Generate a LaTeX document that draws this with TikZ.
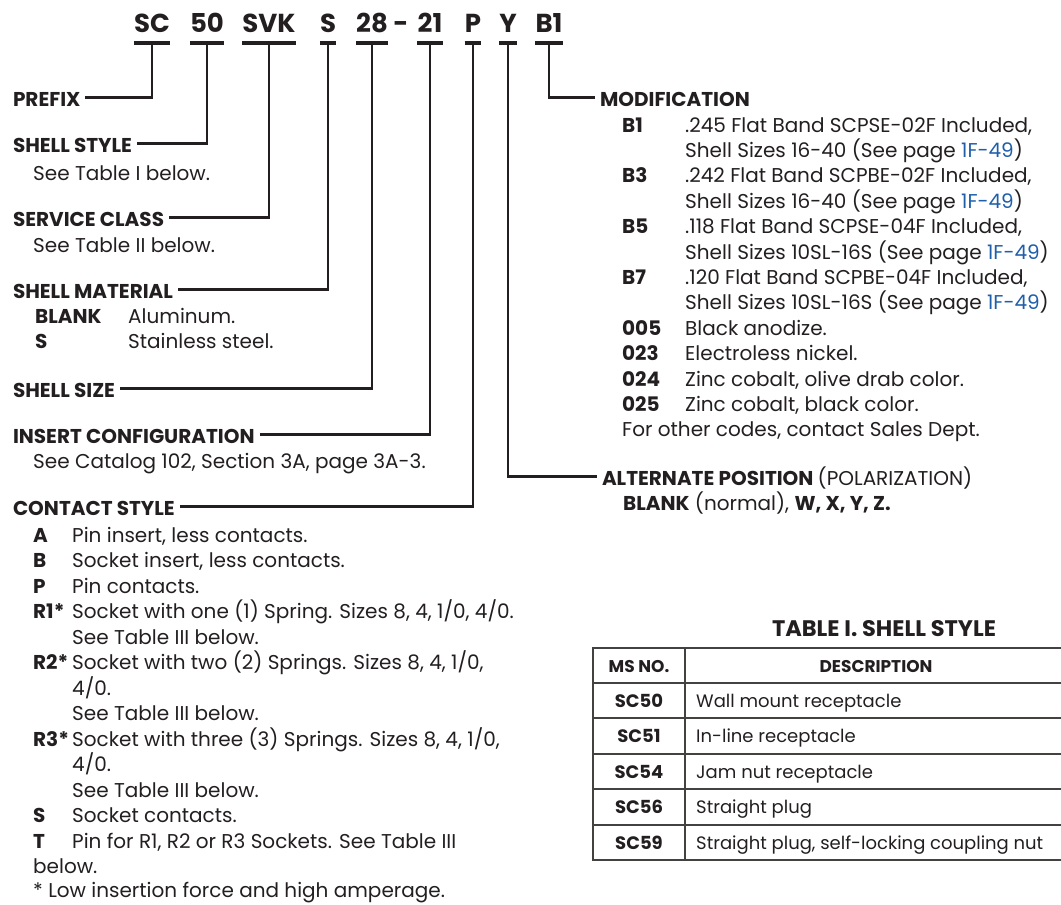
\documentclass[tikz,border=0pt]{standalone}
\usepackage{fontspec}
\setmainfont{Poppins}
\usepackage{xcolor}
\usetikzlibrary{positioning}

\definecolor{ink}{HTML}{231F20}
\definecolor{pagelink}{HTML}{1F5FAA}
\newcommand{\seepg}[1]{\textcolor{pagelink}{#1}}
\newcommand{\codecol}[2]{\makebox[#1][l]{\textbf{#2}}}

\begin{document}
\begin{tikzpicture}[x=1pt, y=-1pt,
        every node/.style={inner sep=0pt, text=ink},
        code/.style={anchor=base, font=\fontsize{26}{30}\selectfont\bfseries},
        head/.style={anchor=base west, font=\fontsize{20}{25}\selectfont\bfseries, text height=17pt, text depth=0pt, outer xsep=5pt},
        body/.style={anchor=base west, font=\fontsize{20}{25}\selectfont},
        cell/.style={font=\fontsize{18}{22}\selectfont, text height=13pt, text depth=0pt},
        bar/.style={line width=4pt, draw=ink},
        lead/.style={line width=2.2pt, draw=ink},
        tabline/.style={line width=1.5pt, draw=ink!85}
    ]
        \useasboundingbox (0,0) rectangle (1061,905);
        \clip (0,0) rectangle (1061,905);

        % Part number
        \node [code] (sc) at (152,32) {SC};
        \node [code] (style) at (207,32) {50};
        \node [code] (svk) at (269,32) {SVK};
        \node [code] (mat) at (328,32) {S};
        \node [code] (size) at (372,32) {28};
        \node [code] (dash) at (401,32) {-};
        \node [code] (ins) at (430,32) {21};
        \node [code] (cst) at (473,32) {P};
        \node [code] (pos) at (508,32) {Y};
        \node [code] (mod) at (549,32) {B1};

        % Bars under the part number
        \coordinate (scbar) at (sc |- 0,43);
        \coordinate (stylebar) at (style |- 0,43);
        \coordinate (svkbar) at (svk |- 0,43);
        \coordinate (matbar) at (mat |- 0,43);
        \coordinate (sizebar) at (size |- 0,43);
        \coordinate (insbar) at (ins |- 0,43);
        \coordinate (cstbar) at (cst |- 0,43);
        \coordinate (posbar) at (pos |- 0,43);
        \coordinate (modbar) at (mod |- 0,43);
        \draw[bar] (sc.west |- scbar) -- (sc.east |- scbar);
        \draw[bar] (style.west |- stylebar) -- (style.east |- stylebar);
        \draw[bar] (svk.west |- svkbar) -- (svk.east |- svkbar);
        \draw[bar] (mat.west |- matbar) -- (mat.east |- matbar);
        \draw[bar] (size.west |- sizebar) -- (size.east |- sizebar);
        \draw[bar] (ins.west |- insbar) -- (ins.east |- insbar);
        \draw[bar] (cst.west |- cstbar) -- (cst.east |- cstbar);
        \draw[bar] (pos.west |- posbar) -- (pos.east |- posbar);
        \draw[bar] (mod.west |- modbar) -- (mod.east |- modbar);

        % Left column
        \node [head] (prefix) at (8,106) {PREFIX};
        \node [head] (shellstyle) at (8,152) {SHELL STYLE};
        \node [body] (shellstylenote) at (33,180) {See Table I below.};
        \node [head] (service) at (8,226) {SERVICE CLASS};
        \node [body] (servicenote) at (33,252) {See Table II below.};
        \node [head] (material) at (8,298) {SHELL MATERIAL};
        \node [body] (matblank) at (35,323) {\codecol{93pt}{BLANK}Aluminum.};
        \node [body] (matsteel) at (35,348) {\codecol{93pt}{S}Stainless steel.};
        \node [head] (shellsize) at (8,397) {SHELL SIZE};
        \node [head] (insert) at (8,443) {INSERT CONFIGURATION};
        \node [body] (insertnote) at (33,468) {See Catalog 102, Section 3A, page 3A-3.};
        \node [head] (contact) at (8,515) {CONTACT STYLE};
        \node [body] (csta) at (33,542) {\codecol{39pt}{A}Pin insert, less contacts.};
        \node [body] (cstb) at (33,567.5) {\codecol{39pt}{B}Socket insert, less contacts.};
        \node [body] (cstp) at (33,593) {\codecol{39pt}{P}Pin contacts.};
        \node [body] (cstrone) at (33,618.5) {\codecol{39pt}{R1*}Socket with one (1) Spring. Sizes 8, 4, 1/0, 4/0.};
        \node [body] (cstronenote) at (72,644) {See Table III below.};
        \node [body] (cstrtwo) at (33,669.5) {\codecol{39pt}{R2*}Socket with two (2) Springs. Sizes 8, 4, 1/0,};
        \node [body] (cstrtwomore) at (72,695) {4/0.};
        \node [body] (cstrtwonote) at (72,720.5) {See Table III below.};
        \node [body] (cstrthree) at (33,746) {\codecol{39pt}{R3*}Socket with three (3) Springs. Sizes 8, 4, 1/0,};
        \node [body] (cstrthreemore) at (72,771.5) {4/0.};
        \node [body] (cstrthreenote) at (72,797) {See Table III below.};
        \node [body] (csts) at (33,822.5) {\codecol{39pt}{S}Socket contacts.};
        \node [body] (cstt) at (33,848) {\codecol{39pt}{T}Pin for R1, R2 or R3 Sockets. See Table III};
        \node [body] (csttmore) at (33,873) {below.};
        \node [body] (cstfoot) at (33,897) {* Low insertion force and high amperage.};

        % Right column
        \node [head] (modification) at (595,106) {MODIFICATION};
        \node [body] (modbone) at (622,132) {\codecol{63pt}{B1}.245 Flat Band SCPSE-02F Included,};
        \node [body] (modbonemore) at (685,157.4) {Shell Sizes 16-40 (See page \seepg{1F-49})};
        \node [body] (modbthree) at (622,182.8) {\codecol{63pt}{B3}.242 Flat Band SCPBE-02F Included,};
        \node [body] (modbthreemore) at (685,208.2) {Shell Sizes 16-40 (See page \seepg{1F-49})};
        \node [body] (modbfive) at (622,233.6) {\codecol{63pt}{B5}.118 Flat Band SCPSE-04F Included,};
        \node [body] (modbfivemore) at (685,259) {Shell Sizes 10SL-16S (See page \seepg{1F-49})};
        \node [body] (modbseven) at (622,284.4) {\codecol{63pt}{B7}.120 Flat Band SCPBE-04F Included,};
        \node [body] (modbsevenmore) at (685,309.8) {Shell Sizes 10SL-16S (See page \seepg{1F-49})};
        \node [body] (modfive) at (622,335.2) {\codecol{63pt}{005}Black anodize.};
        \node [body] (modtwentythree) at (622,360.6) {\codecol{63pt}{023}Electroless nickel.};
        \node [body] (modtwentyfour) at (622,386) {\codecol{63pt}{024}Zinc cobalt, olive drab color.};
        \node [body] (modtwentyfive) at (622,411.4) {\codecol{63pt}{025}Zinc cobalt, black color.};
        \node [body] (modother) at (622,436.8) {For other codes, contact Sales Dept.};
        \node [head] (altpos) at (597,485) {ALTERNATE POSITION \mdseries(POLARIZATION)};
        \node [body] (altlist) at (623,510) {\textbf{BLANK} (normal), \textbf{W, X, Y, Z.}};

        % Connectors
        \draw[lead] (prefix.east) -| (scbar);
        \draw[lead] (shellstyle.east) -| (stylebar);
        \draw[lead] (service.east) -| (svkbar);
        \draw[lead] (material.east) -| (matbar);
        \draw[lead] (shellsize.east) -| (sizebar);
        \draw[lead] (insert.east) -| (insbar);
        \draw[lead] (contact.east) -| (cstbar);
        \draw[lead] (posbar) |- (altpos.west);
        \draw[lead] (modbar) |- (modification.west);

        % Table I
        \node [anchor=base, font=\fontsize{22.5}{28}\selectfont\bfseries] (tabletitle) at (884,636) {TABLE I. SHELL STYLE};
        \draw[tabline, line width=2.2pt] (593,648) rectangle (1075,860);
        \draw[tabline, line width=2.2pt] (593,683) -- (1075,683);
        \draw[tabline] (593,718) -- (1075,718);
        \draw[tabline] (593,754) -- (1075,754);
        \draw[tabline] (593,789) -- (1075,789);
        \draw[tabline] (593,825) -- (1075,825);
        \draw[tabline, line width=2.2pt] (685,648) -- (685,860);
        \node [cell, font=\fontsize{17}{22}\selectfont\bfseries] (hdno) at (639,665.5) {MS NO.};
        \node [cell, font=\fontsize{17}{22}\selectfont\bfseries] (hddesc) at (876,665.5) {DESCRIPTION};
        \node [cell, font=\fontsize{18}{22}\selectfont\bfseries] (nofifty) at (639,700.5) {SC50};
        \node [cell, anchor=west] (descfifty) at (696,700.5) {Wall mount receptacle};
        \node [cell, font=\fontsize{18}{22}\selectfont\bfseries] (nofiftyone) at (639,736) {SC51};
        \node [cell, anchor=west] (descfiftyone) at (696,736) {In-line receptacle};
        \node [cell, font=\fontsize{18}{22}\selectfont\bfseries] (nofiftyfour) at (639,771.5) {SC54};
        \node [cell, anchor=west] (descfiftyfour) at (696,771.5) {Jam nut receptacle};
        \node [cell, font=\fontsize{18}{22}\selectfont\bfseries] (nofiftysix) at (639,807) {SC56};
        \node [cell, anchor=west] (descfiftysix) at (696,807) {Straight plug};
        \node [cell, font=\fontsize{18}{22}\selectfont\bfseries] (nofiftynine) at (639,842.5) {SC59};
        \node [cell, anchor=west] (descfiftynine) at (696,842.5) {Straight plug, self-locking coupling nut};
    \end{tikzpicture}
\end{document}
